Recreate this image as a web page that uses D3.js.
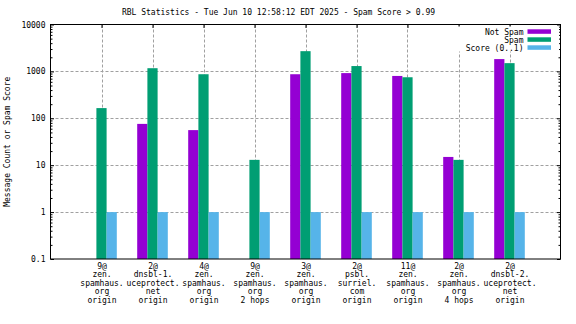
<!DOCTYPE html>
<html>
<head>
<script src="https://d3js.org/d3.v7.min.js"></script>
<style>
  body { margin: 0; background: #fff; }
  text { font-family: "DejaVu Sans Mono", monospace; font-size: 8px; fill: #000; }
</style>
</head>
<body>
<script>

var w = 576;
var h = 324;

// x tick labels, one entry per line
var categories = [
  ["9@", "zen.", "spamhaus.", "org", "origin"],
  ["2@", "dnsbl-1.", "uceprotect.", "net", "origin"],
  ["4@", "zen.", "spamhaus.", "org", "origin"],
  ["9@", "zen.", "spamhaus.", "org", "2 hops"],
  ["3@", "zen.", "spamhaus.", "org", "origin"],
  ["2@", "psbl.", "surriel.", "com", "origin"],
  ["11@", "zen.", "spamhaus.", "org", "origin"],
  ["2@", "zen.", "spamhaus.", "org", "4 hops"],
  ["2@", "dnsbl-2.", "uceprotect.", "net", "origin"]
];

var notSpam = [null, 76, 56, null, 870, 920, 800, 15, 1830];
var spam = [165, 1170, 870, 13, 2700, 1300, 750, 13, 1500];
var score = [1, 1, 1, 1, 1, 1, 1, 1, 1];

var seriesNames = ["Not Spam", "Spam", "Score (0..1)"];
var seriesColors = ["#9400d3", "#009e73", "#56b4e9"];
var yTicks = [0.1, 1, 10, 100, 1000, 10000];

// plot box (window.top is reserved, hence the prefix)
var pLeft = 50.5, pRight = 560.5, pTop = 24.5, pBottom = 259;

var x = d3.scaleLinear().domain([-1, categories.length]).range([pLeft, pRight]);
var y = d3.scaleLog().domain([0.1, 10000]).range([pBottom, pTop]);

var minor = [];
yTicks.slice(0, -1).forEach(function(d){
  for (var k = 2; k < 10; k++) minor.push(d * k);
});

var svg = d3.select("body").append("svg").attr("width", w).attr("height", h);

// grid
var grid = svg.append("g")
  .attr("stroke", "#a0a0a0").attr("stroke-width", 1).attr("stroke-dasharray", "3,2");
grid.selectAll("line.gx").data(d3.range(categories.length)).enter().append("line")
  .attr("x1", function(d){ return Math.round(x(d)) + 0.5; })
  .attr("x2", function(d){ return Math.round(x(d)) + 0.5; })
  .attr("y1", pTop).attr("y2", pBottom);
grid.selectAll("line.gy").data(yTicks.slice(1, -1)).enter().append("line")
  .attr("x1", pLeft).attr("x2", pRight)
  .attr("y1", function(d){ return Math.round(y(d)) + 0.5; })
  .attr("y2", function(d){ return Math.round(y(d)) + 0.5; });

// bars
var series = [notSpam, spam, score];
var bw = 0.2;
series.forEach(function(vals, s){
  svg.append("g").attr("fill", seriesColors[s])
    .selectAll("rect")
    .data(vals.map(function(v, i){ return {i: i, v: v}; }).filter(function(d){ return d.v != null; }))
    .enter().append("rect")
    .attr("x", function(d){ return x(d.i + (s - 1) * bw - bw / 2); })
    .attr("width", x(bw) - x(0))
    .attr("y", function(d){ return y(d.v); })
    .attr("height", function(d){ return pBottom - y(d.v); });
});

// axes
var yAxis = d3.axisLeft(y).tickValues(yTicks).tickSize(-3.5).tickPadding(5)
  .tickFormat(function(d){ return d < 1 ? "0.1" : d3.format("d")(d); });
svg.append("g").attr("transform", "translate(" + pLeft + ",0)").call(yAxis);
svg.append("g").attr("transform", "translate(" + pLeft + ",0)")
  .call(d3.axisLeft(y).tickValues(minor).tickSize(-2).tickFormat(""));
svg.append("g").attr("transform", "translate(" + pRight + ",0)")
  .call(d3.axisRight(y).tickValues(yTicks).tickSize(-3.5).tickFormat(""));
svg.append("g").attr("transform", "translate(" + pRight + ",0)")
  .call(d3.axisRight(y).tickValues(minor).tickSize(-2).tickFormat(""));
svg.append("g").attr("transform", "translate(0," + pTop + ")")
  .call(d3.axisTop(x).tickValues(d3.range(categories.length)).tickSize(-3.5).tickFormat(""));

var gx = svg.append("g").attr("transform", "translate(0," + pBottom + ")")
  .call(d3.axisBottom(x).tickValues(d3.range(categories.length)).tickSize(0).tickFormat(""));

svg.selectAll(".domain").remove();
svg.selectAll(".tick line").attr("stroke", "#000");
svg.selectAll(".tick text").style("font-family", "DejaVu Sans Mono").style("font-size", "8px");

gx.selectAll(".tick").append("text")
  .attr("text-anchor", "middle")
  .attr("fill", "#000")
  .each(function(d){
    var t = d3.select(this);
    categories[d].forEach(function(line, k){
      t.append("tspan").attr("x", 0).attr("y", 9.5 + k * 8.5).text(line);
    });
  });

svg.append("rect")
  .attr("x", pLeft).attr("y", pTop)
  .attr("width", pRight - pLeft).attr("height", pBottom - pTop)
  .attr("fill", "none").attr("stroke", "#000").attr("stroke-width", 1);

// titles
svg.append("text").attr("x", 278.5).attr("y", 15).attr("text-anchor", "middle")
  .text("RBL Statistics - Tue Jun 10 12:58:12 EDT 2025 - Spam Score > 0.99");

svg.append("text").attr("text-anchor", "middle")
  .attr("transform", "translate(10," + ((pTop + pBottom) / 2) + ") rotate(-90)")
  .text("Message Count or Spam Score");

// key, opaque so the grid stops behind it
svg.append("rect").attr("x", 457).attr("y", 26.5).attr("width", 102).attr("height", 25)
  .attr("fill", "#fff");
var key = svg.append("g").selectAll("g").data(seriesNames).enter().append("g")
  .attr("transform", function(d, i){ return "translate(0," + (31.5 + i * 8) + ")"; });
key.append("text").attr("x", 523.5).attr("y", 3).attr("text-anchor", "end")
  .text(function(d){ return d; });
key.append("rect").attr("x", 527.5).attr("y", -2.2).attr("width", 23.5).attr("height", 4.5)
  .attr("fill", function(d, i){ return seriesColors[i]; });

</script>
</body>
</html>
